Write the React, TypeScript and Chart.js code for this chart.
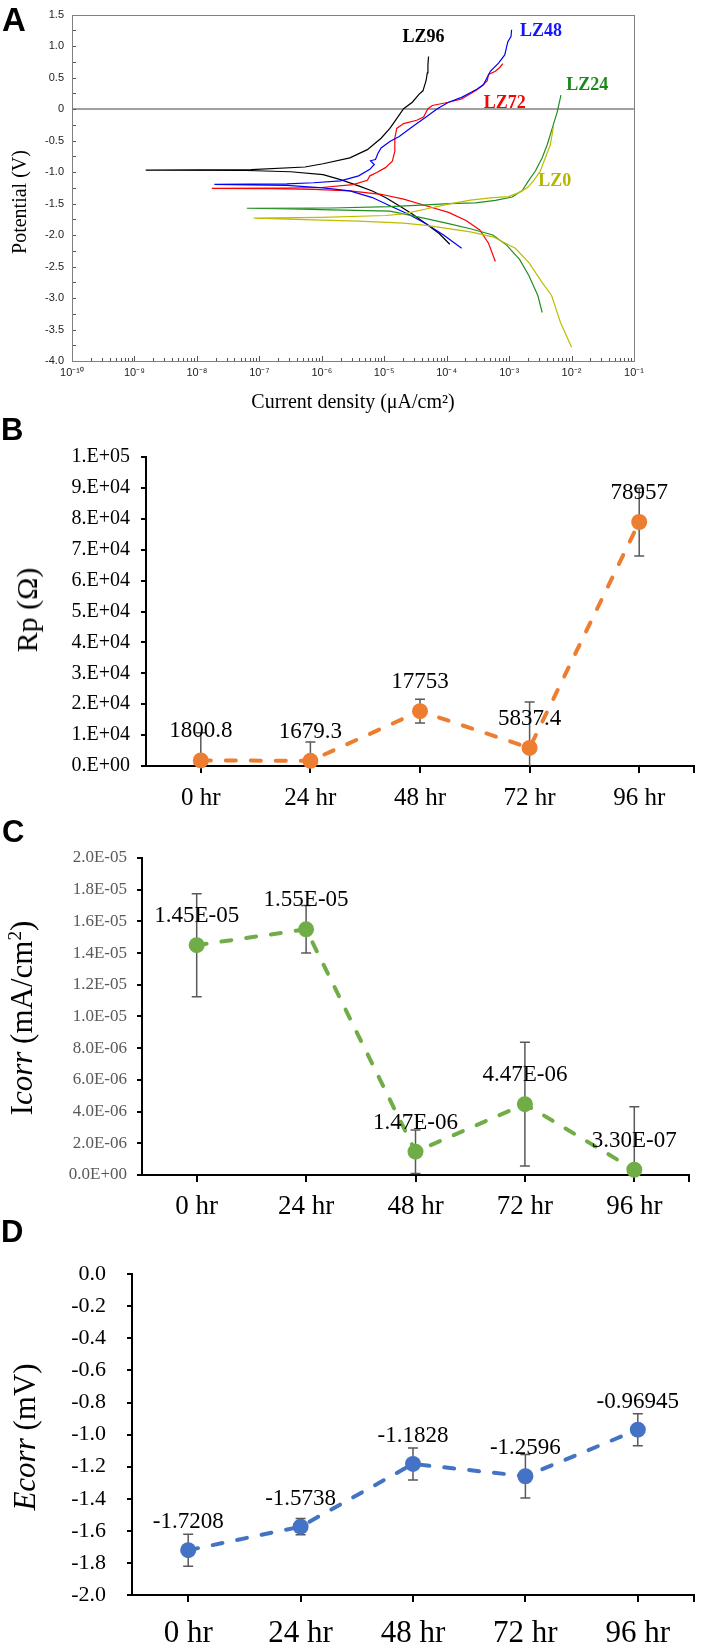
import React, { useEffect, useRef } from 'react';
import { Chart, registerables } from 'chart.js';

Chart.register(...registerables);

// ---------------- Panel A: polarization curves ----------------
const curveNames = ['LZ0', 'LZ24', 'LZ48', 'LZ72', 'LZ96'];
const curveColors = ['#bdbd00', '#1f8f1f', '#0000ff', '#ff0000', '#000000'];
const labelColors = ['#b5b500', '#178a17', '#1515ff', '#ff0000', '#000000'];
// label anchor positions (log10 current, potential)
const labelLogI = [-2.27, -1.75, -2.49, -3.07, -4.37];
const labelE = [-1.151, 0.383, 1.24, 0.095, 1.136];

// log10 of current density and potential (V) along each scan
const lz0LogI = [-2.0, -2.18, -2.32, -2.47, -2.68, -2.9, -3.26, -3.62, -3.97, -4.33, -4.69, -5.41, -6.13, -7.09, -6.0, -4.98, -4.69, -4.33, -3.97, -3.62, -3.26, -3.01, -2.85, -2.71, -2.61, -2.5, -2.42, -2.34, -2.29];
const lz0E = [-3.78, -3.38, -2.96, -2.755, -2.443, -2.21, -2.028, -1.95, -1.898, -1.846, -1.81, -1.779, -1.758, -1.73, -1.72, -1.69, -1.665, -1.587, -1.51, -1.447, -1.405, -1.39, -1.33, -1.25, -1.139, -0.983, -0.774, -0.567, -0.28];

const lz24LogI = [-2.47, -2.54, -2.68, -2.83, -3.04, -3.26, -3.62, -3.97, -4.33, -4.69, -4.91, -5.84, -6.5, -7.2, -5.84, -4.91, -4.33, -3.97, -3.54, -3.22, -2.95, -2.79, -2.69, -2.58, -2.47, -2.39, -2.31, -2.23, -2.17];
const lz24E = [-3.23, -2.96, -2.65, -2.39, -2.16, -2.0, -1.9, -1.82, -1.74, -1.665, -1.62, -1.6, -1.585, -1.575, -1.571, -1.55, -1.52, -1.5, -1.49, -1.45, -1.397, -1.294, -1.139, -0.983, -0.774, -0.567, -0.307, -0.048, 0.22];

const lz48LogI = [-3.76, -4.05, -4.33, -4.62, -4.91, -5.19, -5.55, -5.98, -6.56, -7.72, -6.56, -6.13, -5.7, -5.41, -5.23, -5.16, -5.22, -5.14, -5.1, -5.05, -4.91, -4.76, -4.55, -4.33, -4.15, -3.97, -3.76, -3.6, -3.51, -3.41, -3.3, -3.17, -3.07, -3.02, -2.97, -2.96];
const lz48E = [-2.21, -2.0, -1.82, -1.665, -1.535, -1.405, -1.3, -1.25, -1.21, -1.195, -1.187, -1.17, -1.14, -1.06, -0.956, -0.88, -0.82, -0.8, -0.7, -0.618, -0.515, -0.437, -0.28, -0.125, 0.005, 0.108, 0.186, 0.27, 0.32, 0.39, 0.6, 0.73, 0.86, 1.07, 1.15, 1.26];

const lz72LogI = [-3.22, -3.33, -3.47, -3.69, -3.97, -4.33, -4.69, -5.05, -5.55, -6.13, -6.8, -7.76, -6.6, -6.0, -5.5, -5.27, -5.23, -5.12, -4.98, -4.87, -4.83, -4.83, -4.8, -4.69, -4.48, -4.37, -4.3, -4.23, -3.97, -3.76, -3.54, -3.43, -3.35, -3.33, -3.22, -3.15, -3.1];
const lz72E = [-2.42, -2.13, -1.92, -1.77, -1.64, -1.535, -1.43, -1.353, -1.3, -1.275, -1.265, -1.26, -1.255, -1.245, -1.2, -1.13, -1.06, -1.008, -0.93, -0.826, -0.67, -0.463, -0.307, -0.23, -0.177, -0.125, 0.005, 0.057, 0.108, 0.16, 0.29, 0.37, 0.45, 0.55, 0.6, 0.66, 0.72];

const lz96LogI = [-3.95, -4.12, -4.33, -4.55, -4.76, -4.98, -5.19, -5.41, -5.7, -5.98, -6.5, -7.2, -8.82, -7.13, -6.27, -5.98, -5.55, -5.27, -5.05, -4.91, -4.8, -4.69, -4.55, -4.44, -4.38, -4.33, -4.31, -4.3, -4.29];
const lz96E = [-2.147, -1.976, -1.82, -1.665, -1.535, -1.405, -1.3, -1.22, -1.12, -1.04, -0.995, -0.975, -0.968, -0.962, -0.92, -0.868, -0.774, -0.644, -0.463, -0.307, -0.151, 0.005, 0.109, 0.238, 0.29, 0.45, 0.576, 0.706, 0.835];

const curveLogI = [lz0LogI, lz24LogI, lz48LogI, lz72LogI, lz96LogI];
const curveE = [lz0E, lz24E, lz48E, lz72E, lz96E];

// ---------------- Panels B, C, D ----------------
const hours = ['0 hr', '24 hr', '48 hr', '72 hr', '96 hr'];

const rpValues = [1800.8, 1679.3, 17753, 5837.4, 78957];
const rpErrors = [9000, 6100, 3850, 14900, 10957];
const rpLabels = ['1800.8', '1679.3', '17753', '5837.4', '78957'];

const icorrValues = [1.45e-5, 1.55e-5, 1.47e-6, 4.47e-6, 3.3e-7];
const icorrErrors = [3.25e-6, 1.5e-6, 1.37e-6, 3.9e-6, 3.98e-6];
const icorrLabels = ['1.45E-05', '1.55E-05', '1.47E-06', '4.47E-06', '3.30E-07'];

const ecorrValues = [-1.7208, -1.5738, -1.1828, -1.2596, -0.96945];
const ecorrErrors = [0.1, 0.05, 0.1, 0.135, 0.1];
const ecorrLabels = ['-1.7208', '-1.5738', '-1.1828', '-1.2596', '-0.96945'];

const SERIF = '"Liberation Serif", "Times New Roman", serif';
const SANS = '"Liberation Sans", Arial, sans-serif';

const SUP: Record<string, string> = { '-': '\u207B', '0': '\u2070', '1': '\u00B9', '2': '\u00B2', '3': '\u00B3', '4': '\u2074', '5': '\u2075', '6': '\u2076', '7': '\u2077', '8': '\u2078', '9': '\u2079' };
const sup = (n: number) => String(Math.round(n)).split('').map((c) => SUP[c] || c).join('');

function expFmt(v: number, digits: number) {
  const s = Number(v).toExponential(digits);
  const [m, e] = s.split('e');
  const n = parseInt(e, 10);
  const mant = digits === 0 ? m + '.' : m;
  return mant + 'E' + (n < 0 ? '-' : '+') + String(Math.abs(n)).padStart(2, '0');
}

const panelAPlugin = {
  id: 'panelA',
  beforeDatasetsDraw(chart: any) {
    const { ctx, chartArea: a, scales } = chart;
    const x = scales.x, y = scales.y;
    ctx.save();
    ctx.strokeStyle = '#808080';
    ctx.lineWidth = 1.5;
    const y0 = y.getPixelForValue(0);
    ctx.beginPath();
    ctx.moveTo(a.left, y0);
    ctx.lineTo(a.right, y0);
    ctx.stroke();
    ctx.strokeStyle = '#555';
    ctx.lineWidth = 1;
    ctx.beginPath();
    for (let k = 0; k <= 22; k++) {
      const py = Math.round(y.getPixelForValue(-4 + k * 0.25)) + 0.5;
      ctx.moveTo(a.left, py);
      ctx.lineTo(a.left + 4, py);
    }
    for (let n = -10; n < -1; n++) {
      for (let k = 1; k < 10; k++) {
        const px = Math.round(x.getPixelForValue(n + Math.log10(k))) + 0.5;
        const len = k === 1 ? 5 : 3;
        ctx.moveTo(px, a.bottom);
        ctx.lineTo(px, a.bottom - len);
      }
    }
    ctx.stroke();
    ctx.restore();
  },
  afterDraw(chart: any) {
    const { ctx, chartArea: a, scales } = chart;
    const x = scales.x, y = scales.y;
    ctx.save();
    ctx.strokeStyle = '#808080';
    ctx.lineWidth = 1;
    ctx.strokeRect(Math.round(a.left) + 0.5, Math.round(a.top) + 0.5, Math.round(a.right - a.left), Math.round(a.bottom - a.top));
    ctx.font = `bold 18px ${SERIF}`;
    ctx.textAlign = 'center';
    ctx.textBaseline = 'middle';
    curveNames.forEach((name, i) => {
      ctx.fillStyle = labelColors[i];
      ctx.fillText(name, x.getPixelForValue(labelLogI[i]), y.getPixelForValue(labelE[i]));
    });
    ctx.restore();
  },
};

function buildA(canvas: HTMLCanvasElement) {
  const datasets = curveNames.map((name, i) => ({
    label: name,
    data: curveLogI[i].map((lx, j) => ({ x: lx, y: curveE[i][j] })),
    showLine: true,
    borderColor: curveColors[i],
    backgroundColor: curveColors[i],
    borderWidth: 1.2,
    pointRadius: 0,
    tension: 0,
    fill: false,
  }));
  return new Chart(canvas, {
    type: 'scatter',
    data: { datasets },
    options: {
      responsive: false,
      animation: false,
      layout: { padding: { left: 0, top: 7, right: 68, bottom: 5 } },
      plugins: { legend: { display: false }, tooltip: { enabled: false } },
      scales: {
        x: {
          type: 'linear',
          min: -10,
          max: -1,
          ticks: {
            stepSize: 1,
            maxTicksLimit: 100,
            callback: (v: any) => '10' + sup(Number(v)),
            font: { family: SANS, size: 11 },
            color: '#222',
            padding: 5,
          },
          grid: { display: false, drawTicks: false },
          border: { display: false },
          title: {
            display: true,
            text: 'Current density (\u03BCA/cm\u00B2)',
            font: { family: SERIF, size: 20 },
            color: '#000',
            padding: { top: 0, bottom: 0 },
          },
          afterFit: (s: any) => { s.height = 54; },
        },
        y: {
          type: 'linear',
          min: -4,
          max: 1.5,
          ticks: {
            stepSize: 0.5,
            maxTicksLimit: 100,
            callback: (v: any) => (Math.abs(Number(v)) < 1e-9 ? '0' : Number(v).toFixed(1)),
            font: { family: SANS, size: 11 },
            color: '#222',
            padding: 8,
          },
          grid: { display: false, drawTicks: false },
          border: { display: false },
          afterFit: (s: any) => { s.width = 72; },
        },
      },
    },
    plugins: [panelAPlugin],
  } as any);
}

interface ParamCfg {
  values: number[];
  errors: number[];
  labels: string[];
  color: string;
  yMin: number;
  yMax: number;
  yStep: number;
  yFormat: (v: number) => string;
  yFont: number;
  yColor: string;
  yPad: number;
  xFont: number;
  xPad: number;
  pad: { top: number; right: number; bottom: number };
  yWidth: number;
  xHeight: number;
  labelOffset: number;
  labelFont: number;
}

function makeParamPlugin(cfg: ParamCfg) {
  return {
    id: 'paramExtras',
    beforeDatasetsDraw(chart: any) {
      const { ctx, chartArea: a, scales } = chart;
      const x = scales.x, y = scales.y;
      ctx.save();
      ctx.beginPath();
      ctx.rect(a.left, a.top, a.right - a.left, a.bottom - a.top);
      ctx.clip();
      ctx.strokeStyle = '#595959';
      ctx.lineWidth = 1.5;
      ctx.beginPath();
      cfg.values.forEach((v, i) => {
        const px = x.getPixelForValue(i);
        const yt = y.getPixelForValue(v + cfg.errors[i]);
        const yb = y.getPixelForValue(v - cfg.errors[i]);
        ctx.moveTo(px, yt);
        ctx.lineTo(px, yb);
        ctx.moveTo(px - 5, yt);
        ctx.lineTo(px + 5, yt);
        ctx.moveTo(px - 5, yb);
        ctx.lineTo(px + 5, yb);
      });
      ctx.stroke();
      ctx.restore();
    },
    afterDatasetsDraw(chart: any) {
      const { ctx, scales } = chart;
      const x = scales.x, y = scales.y;
      ctx.save();
      ctx.font = `${cfg.labelFont}px ${SERIF}`;
      ctx.fillStyle = '#000';
      ctx.textAlign = 'center';
      ctx.textBaseline = 'middle';
      cfg.values.forEach((v, i) => {
        ctx.fillText(cfg.labels[i], x.getPixelForValue(i), y.getPixelForValue(v) - cfg.labelOffset);
      });
      ctx.restore();
    },
    afterDraw(chart: any) {
      const { ctx, chartArea: a } = chart;
      ctx.save();
      ctx.strokeStyle = '#000';
      ctx.lineWidth = 2;
      ctx.beginPath();
      ctx.moveTo(a.right, a.bottom);
      ctx.lineTo(a.right, a.bottom + 7);
      ctx.stroke();
      ctx.restore();
    },
  };
}

function buildParam(canvas: HTMLCanvasElement, cfg: ParamCfg) {
  return new Chart(canvas, {
    type: 'line',
    data: {
      labels: hours,
      datasets: [
        {
          data: cfg.values,
          borderColor: cfg.color,
          backgroundColor: cfg.color,
          borderWidth: 4,
          borderDash: [10, 15],
          borderCapStyle: 'round',
          pointRadius: 8,
          pointHoverRadius: 8,
          pointBackgroundColor: cfg.color,
          pointBorderColor: cfg.color,
          pointBorderWidth: 0,
          tension: 0,
          fill: false,
          clip: false,
        },
      ],
    },
    options: {
      responsive: false,
      animation: false,
      layout: { padding: { left: 0, top: cfg.pad.top, right: cfg.pad.right, bottom: cfg.pad.bottom } },
      plugins: { legend: { display: false }, tooltip: { enabled: false } },
      scales: {
        x: {
          type: 'category',
          offset: true,
          grid: { display: true, drawOnChartArea: false, drawTicks: true, tickLength: 7, color: '#000', lineWidth: 2, offset: false },
          border: { display: true, color: '#000', width: 2 },
          ticks: { font: { family: SERIF, size: cfg.xFont }, color: '#000', padding: cfg.xPad, maxRotation: 0, autoSkip: false },
          afterFit: (s: any) => { s.height = cfg.xHeight; },
        },
        y: {
          type: 'linear',
          min: cfg.yMin,
          max: cfg.yMax,
          grid: { display: true, drawOnChartArea: false, drawTicks: true, tickLength: 5, color: '#000', lineWidth: 2 },
          border: { display: true, color: '#000', width: 2 },
          ticks: {
            stepSize: cfg.yStep,
            maxTicksLimit: 100,
            callback: (v: any) => cfg.yFormat(Number(v)),
            font: { family: SERIF, size: cfg.yFont },
            color: cfg.yColor,
            padding: cfg.yPad,
          },
          afterFit: (s: any) => { s.width = cfg.yWidth; },
        },
      },
    },
    plugins: [makeParamPlugin(cfg)],
  } as any);
}

const cfgB: ParamCfg = {
  values: rpValues, errors: rpErrors, labels: rpLabels, color: '#ED7D31',
  yMin: 0, yMax: 100000, yStep: 10000, yFormat: (v) => expFmt(v, 0),
  yFont: 20, yColor: '#000', yPad: 11, xFont: 25, xPad: 10,
  pad: { top: 27, right: 6, bottom: 4 }, yWidth: 146, xHeight: 60, labelOffset: 29, labelFont: 23,
};
const cfgC: ParamCfg = {
  values: icorrValues, errors: icorrErrors, labels: icorrLabels, color: '#70AD47',
  yMin: 0, yMax: 2e-5, yStep: 2e-6, yFormat: (v) => expFmt(Math.abs(v) < 1e-12 ? 0 : v, 1),
  yFont: 17, yColor: '#595959', yPad: 10, xFont: 27, xPad: 9,
  pad: { top: 23, right: 13, bottom: 4 }, yWidth: 142, xHeight: 56, labelOffset: 29, labelFont: 23,
};
const cfgD: ParamCfg = {
  values: ecorrValues, errors: ecorrErrors, labels: ecorrLabels, color: '#4472C4',
  yMin: -2, yMax: 0, yStep: 0.2, yFormat: (v) => (Math.abs(v) < 1e-9 ? '0.0' : v.toFixed(1)),
  yFont: 22, yColor: '#000', yPad: 21, xFont: 31, xPad: 13,
  pad: { top: 20, right: 4, bottom: 2 }, yWidth: 132, xHeight: 51, labelOffset: 28, labelFont: 23,
};

const Letter = ({ x, y, size, text }: { x: number; y: number; size: number; text: string }) => (
  <div style={{ position: 'absolute', left: x, top: y, fontFamily: SANS, fontWeight: 'bold', fontSize: size, lineHeight: 1, color: '#000' }}>{text}</div>
);

const RotTitle = ({ cx, cy, size, children }: { cx: number; cy: number; size: number; children: any }) => (
  <div
    style={{
      position: 'absolute', left: cx, top: cy, transform: 'translate(-50%, -50%) rotate(-90deg)',
      fontFamily: SERIF, fontSize: size, lineHeight: 1, whiteSpace: 'nowrap', color: '#000',
    }}
  >
    {children}
  </div>
);

export default function App() {
  const aRef = useRef<HTMLCanvasElement>(null);
  const bRef = useRef<HTMLCanvasElement>(null);
  const cRef = useRef<HTMLCanvasElement>(null);
  const dRef = useRef<HTMLCanvasElement>(null);

  useEffect(() => {
    const charts = [
      buildA(aRef.current!),
      buildParam(bRef.current!, cfgB),
      buildParam(cRef.current!, cfgC),
      buildParam(dRef.current!, cfgD),
    ];
    return () => charts.forEach((c) => c.destroy());
  }, []);

  return (
    <div style={{ position: 'absolute', left: 0, top: 0, width: 702, height: 1648, background: '#fff', overflow: 'hidden' }}>
      <canvas ref={aRef} width={702} height={420} style={{ position: 'absolute', left: 0, top: 0, width: 702, height: 420 }} />
      <canvas ref={bRef} width={702} height={400} style={{ position: 'absolute', left: 0, top: 430, width: 702, height: 400 }} />
      <canvas ref={cRef} width={702} height={400} style={{ position: 'absolute', left: 0, top: 835, width: 702, height: 400 }} />
      <canvas ref={dRef} width={702} height={408} style={{ position: 'absolute', left: 0, top: 1240, width: 702, height: 408 }} />

      <Letter x={2} y={3} size={33} text="A" />
      <Letter x={1} y={414} size={31} text="B" />
      <Letter x={2} y={816} size={31} text="C" />
      <Letter x={1} y={1216} size={31} text="D" />

      <RotTitle cx={19} cy={202} size={20}>Potential (V)</RotTitle>
      <RotTitle cx={27} cy={610} size={30}>Rp (Ω)</RotTitle>
      <RotTitle cx={21} cy={1018} size={31}>
        I<i>corr</i> (mA/cm<sup style={{ fontSize: '0.62em', lineHeight: 0, verticalAlign: '0.55em' }}>2</sup>)
      </RotTitle>
      <RotTitle cx={24} cy={1437} size={31}>
        <i>Ecorr</i> (mV)
      </RotTitle>
    </div>
  );
}
